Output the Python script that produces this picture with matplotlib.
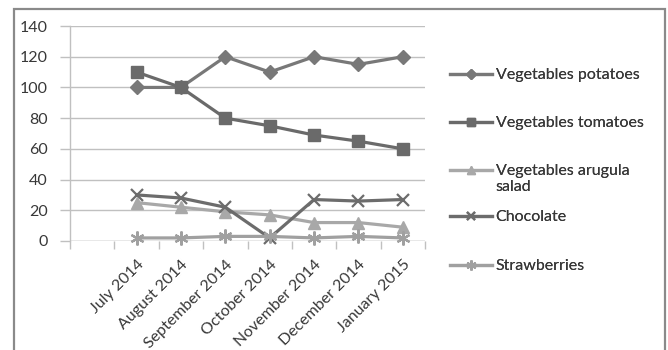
import matplotlib
matplotlib.use("Agg")
import matplotlib.pyplot as plt
from matplotlib.patches import Rectangle
from matplotlib.ticker import FixedLocator, NullFormatter

months = ["July 2014", "August 2014", "September 2014", "October 2014",
          "November 2014", "December 2014", "January 2015"]
potatoes = [100, 100, 120, 110, 120, 115, 120]
tomatoes = [110, 100, 80, 75, 69, 65, 60]
arugula = [25, 22, 19, 17, 12, 12, 9]
chocolate = [30, 28, 22, 2, 27, 26, 27]
strawberries = [2, 2, 3, 3, 2, 3, 2]
series_names = ["Vegetables potatoes", "Vegetables tomatoes",
                "Vegetables arugula\nsalad", "Chocolate", "Strawberries"]
y_ticks = [0, 20, 40, 60, 80, 100, 120, 140]

plt.rcParams["font.family"] = ["Lato", "DejaVu Sans"]
TEXT = "#383838"
GRID = "#c0c0c0"

W, H = 668, 350
fig = plt.figure(figsize=(W / 100, H / 100), dpi=100)
fig.patch.set_facecolor("white")

# plot area in pixel terms: x 70..425, y 26..241
ax = fig.add_axes([70 / W, (H - 241) / H, (425 - 70) / W, (241 - 26) / H])

x = list(range(1, len(months) + 1))
styles = [
    (potatoes, "#787878", "D", 7, 2.3),
    (tomatoes, "#6a6a6a", "s", 9, 2.3),
    (arugula, "#a8a8a8", "^", 9, 2.3),
    (chocolate, "#6c6c6c", "x", 9, 2.3),
    (strawberries, "#a0a0a0", (6, 2, 0), 10, 2.3),
]
handles = []
for (vals, col, mk, ms, lw), name in zip(styles, series_names):
    mew = 1.6 if mk in ("x",) or isinstance(mk, tuple) else 1.0
    ln, = ax.plot(x, vals, color=col, lw=lw, marker=mk, ms=ms,
                  markerfacecolor=col, markeredgecolor=col, mew=mew,
                  label=name, zorder=3, clip_on=False)
    handles.append(ln)

ax.set_xlim(-0.5, 7.5)
ax.set_ylim(0, 140)
ax.set_yticks(y_ticks)
ax.yaxis.grid(True, color=GRID, lw=1.0)
ax.set_axisbelow(True)
for s in ["top", "right", "bottom"]:
    ax.spines[s].set_visible(False)
ax.spines["left"].set_color(GRID)
ax.spines["left"].set_linewidth(1.0)
ax.axhline(0, color=GRID, lw=1.0, zorder=1)

ax.tick_params(axis="y", length=7, width=1.0, color=GRID, pad=9,
               labelsize=11.5, labelcolor=TEXT)
ax.xaxis.set_major_locator(FixedLocator(x))
ax.set_xticklabels(months, rotation=45, ha="right", rotation_mode="anchor",
                   fontsize=11.5, color=TEXT)
ax.tick_params(axis="x", which="major", length=0, pad=12)
ax.xaxis.set_minor_locator(FixedLocator([i - 0.5 for i in range(9)]))
ax.xaxis.set_minor_formatter(NullFormatter())
ax.tick_params(axis="x", which="minor", length=6, width=1.0, color=GRID)

# legend entries stacked down the right side
entry_y = [74, 122, 170, 216, 265]
for h, ypix in zip(handles, entry_y):
    leg = fig.legend([h], [h.get_label()], loc="upper left",
                     bbox_to_anchor=(450 / W, 1 - (ypix - 6) / H),
                     frameon=False, fontsize=11.5, handlelength=2.6,
                     handletextpad=0.25, borderpad=0, borderaxespad=0,
                     markerscale=0.7, labelcolor=TEXT)
    for hp in leg._legend_handle_box.get_children()[0].get_children():
        hp.align = "top"
    fig.add_artist(leg)

# outer chart border
fig.add_artist(Rectangle((14 / W, -0.1), (665 - 14) / W, 1.1 - 9 / H,
                         transform=fig.transFigure, fill=False,
                         edgecolor="#8a8a8a", lw=1.6, clip_on=False))

fig.savefig("out.png", dpi=100)
